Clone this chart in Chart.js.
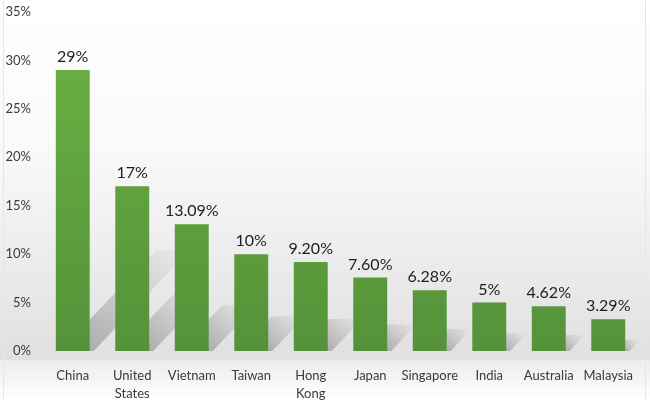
<!DOCTYPE html>
<html>
<head>
<meta charset="utf-8">
<script src="https://cdn.jsdelivr.net/npm/chart.js@4/dist/chart.umd.min.js"></script>
<style>
  html, body { margin: 0; padding: 0; background: #fff; }
  #wrap { width: 650px; height: 400px; position: relative; }
</style>
</head>
<body>
<div id="wrap"><canvas id="c"></canvas></div>
<script>
var categories = ['China', ['United', 'States'], 'Vietnam', 'Taiwan', ['Hong', 'Kong'], 'Japan', 'Singapore', 'India', 'Australia', 'Malaysia'];
var shares = [29, 17, 13.09, 10, 9.2, 7.6, 6.28, 5, 4.62, 3.29];
var shareLabels = ['29%', '17%', '13.09%', '10%', '9.20%', '7.60%', '6.28%', '5%', '4.62%', '3.29%'];

var FONT = 'Lato, "Open Sans", sans-serif';

// soft grey backdrop and thin frame
var backdrop = {
  id: 'backdrop',
  beforeDraw: function(chart) {
    var ctx = chart.ctx, w = chart.width, h = chart.height;
    ctx.save();
    var g = ctx.createLinearGradient(0, 0, 0, 360);
    g.addColorStop(0, '#ffffff');
    g.addColorStop(0.4, '#fafafa');
    g.addColorStop(1, '#e0e0e0');
    ctx.fillStyle = g;
    ctx.fillRect(0, 0, w, 360);
    var g2 = ctx.createLinearGradient(0, 360, 0, h);
    g2.addColorStop(0, '#ececec');
    g2.addColorStop(1, '#ffffff');
    ctx.fillStyle = g2;
    ctx.fillRect(0, 360, w, h - 360);
    ctx.strokeStyle = '#e6e6e6';
    ctx.lineWidth = 1;
    ctx.beginPath();
    ctx.moveTo(3.5, 0); ctx.lineTo(3.5, h);
    ctx.moveTo(645.5, 0); ctx.lineTo(645.5, h);
    ctx.stroke();
    ctx.restore();
  }
};

// slanted shadows behind each bar
var barShadows = {
  id: 'barShadows',
  beforeDatasetsDraw: function(chart) {
    var ctx = chart.ctx;
    var meta = chart.getDatasetMeta(0);
    ctx.save();
    meta.data.forEach(function(bar) {
      var half = bar.width / 2;
      var left = bar.x - half, right = bar.x + half;
      var base = bar.base;
      var h = base - bar.y;
      var dy = h * 0.36, dx = dy * 0.95;
      var g = ctx.createLinearGradient(right, base, right + dx, base - dy);
      g.addColorStop(0, 'rgba(120,120,120,0.5)');
      g.addColorStop(1, 'rgba(150,150,150,0.04)');
      ctx.fillStyle = g;
      ctx.beginPath();
      ctx.moveTo(left + 4, base);
      ctx.lineTo(right + 4, base);
      ctx.lineTo(right + 4 + dx, base - dy);
      ctx.lineTo(left + 4 + dx, base - dy);
      ctx.closePath();
      ctx.fill();
    });
    ctx.restore();
  }
};

// value text above bars
var valueText = {
  id: 'valueText',
  afterDatasetsDraw: function(chart) {
    var ctx = chart.ctx;
    var meta = chart.getDatasetMeta(0);
    ctx.save();
    ctx.font = '16px ' + FONT;
    ctx.fillStyle = '#1e1e1e';
    ctx.textAlign = 'center';
    ctx.textBaseline = 'bottom';
    meta.data.forEach(function(bar, i) {
      ctx.fillText(shareLabels[i], bar.x, bar.y - 5);
    });
    ctx.restore();
  }
};

var ctx = document.getElementById('c').getContext('2d');
new Chart(ctx, {
  type: 'bar',
  data: {
    labels: categories,
    datasets: [{
      data: shares,
      backgroundColor: function(context) {
        var area = context.chart.chartArea;
        if (!area) return '#63a540';
        var g = context.chart.ctx.createLinearGradient(0, area.top, 0, area.bottom);
        g.addColorStop(0, '#6db343');
        g.addColorStop(1, '#55923a');
        return g;
      },
      borderWidth: 0,
      categoryPercentage: 1,
      barPercentage: 0.57
    }]
  },
  options: {
    responsive: true,
    maintainAspectRatio: false,
    animation: false,
    layout: { padding: { left: 0, right: 12, top: 12, bottom: 0 } },
    plugins: { legend: { display: false }, tooltip: { enabled: false } },
    scales: {
      x: {
        grid: { display: false, drawTicks: false },
        border: { display: false },
        afterFit: function(scale) { scale.height = 49; },
        ticks: { color: '#3a3a3a', font: { family: FONT, size: 13, lineHeight: 1.35 }, padding: 16, maxRotation: 0, autoSkip: false }
      },
      y: {
        min: 0,
        max: 35,
        afterFit: function(scale) {
          scale.width = 43;
          scale.paddingTop = 0;
          scale.paddingBottom = 0;
        },
        grid: { display: false, drawTicks: false },
        border: { display: false },
        ticks: {
          stepSize: 5,
          padding: 12,
          color: '#3a3a3a',
          font: { family: FONT, size: 13 },
          callback: function(v) { return v + '%'; }
        }
      }
    }
  },
  plugins: [backdrop, barShadows, valueText]
});
</script>
</body>
</html>
